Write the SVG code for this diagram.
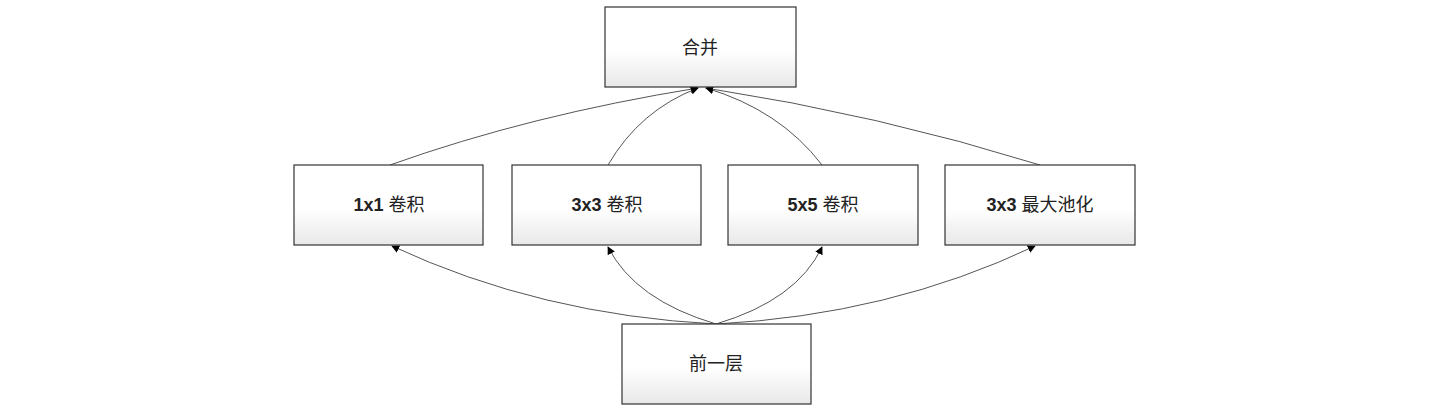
<svg xmlns="http://www.w3.org/2000/svg" width="1439" height="410" viewBox="0 0 1439 410">
<defs>
<linearGradient id="g" x1="0" y1="0" x2="0" y2="1">
<stop offset="0" stop-color="#ffffff"/>
<stop offset="0.55" stop-color="#ffffff"/>
<stop offset="1" stop-color="#e8e8e8"/>
</linearGradient>
<marker id="ah" viewBox="0 0 10 10" refX="9" refY="5" markerWidth="8" markerHeight="8" markerUnits="userSpaceOnUse" orient="auto">
<path d="M0,0 L10,5 L0,10 z" fill="#000"/>
</marker>
</defs>
<style>
.box{fill:url(#g);stroke:#333;stroke-width:1.2}
.t{font-family:"Liberation Sans","Noto Sans CJK SC",sans-serif;font-size:18px;fill:#222;text-anchor:middle;dominant-baseline:central}
.b{font-weight:bold}
.c{fill:none;stroke:#555;stroke-width:1;marker-end:url(#ah)}
</style>
<rect width="1439" height="410" fill="#fff"/>
<g id="connectors">
<path class="c" d="M390,165 Q530,115 698,88"/>
<path class="c" d="M608,165 Q640,110 698,88"/>
<path class="c" d="M822,165 Q780,110 706,88"/>
<path class="c" d="M1040,165 Q880,115 706,88"/>
<path class="c" d="M716,324 Q540,315 392,246"/>
<path class="c" d="M716,324 Q635,300 608,247"/>
<path class="c" d="M716,324 Q797,300 822,247"/>
<path class="c" d="M716,324 Q890,315 1035,246"/>
</g>
<g id="merge">
<rect class="box" x="605" y="7" width="191" height="80"/>
<text class="t" x="700" y="48">合并</text>
</g>
<g id="conv1">
<rect class="box" x="294" y="165" width="189" height="80"/>
<text class="t" x="389" y="205"><tspan class="b">1x1</tspan> 卷积</text>
</g>
<g id="conv3">
<rect class="box" x="512" y="165" width="189" height="80"/>
<text class="t" x="607" y="205"><tspan class="b">3x3</tspan> 卷积</text>
</g>
<g id="conv5">
<rect class="box" x="728" y="165" width="190" height="80"/>
<text class="t" x="823" y="205"><tspan class="b">5x5</tspan> 卷积</text>
</g>
<g id="pool">
<rect class="box" x="945" y="165" width="190" height="80"/>
<text class="t" x="1040" y="205"><tspan class="b">3x3</tspan> 最大池化</text>
</g>
<g id="prev">
<rect class="box" x="622" y="324" width="189" height="80"/>
<text class="t" x="716" y="364">前一层</text>
</g>
</svg>
